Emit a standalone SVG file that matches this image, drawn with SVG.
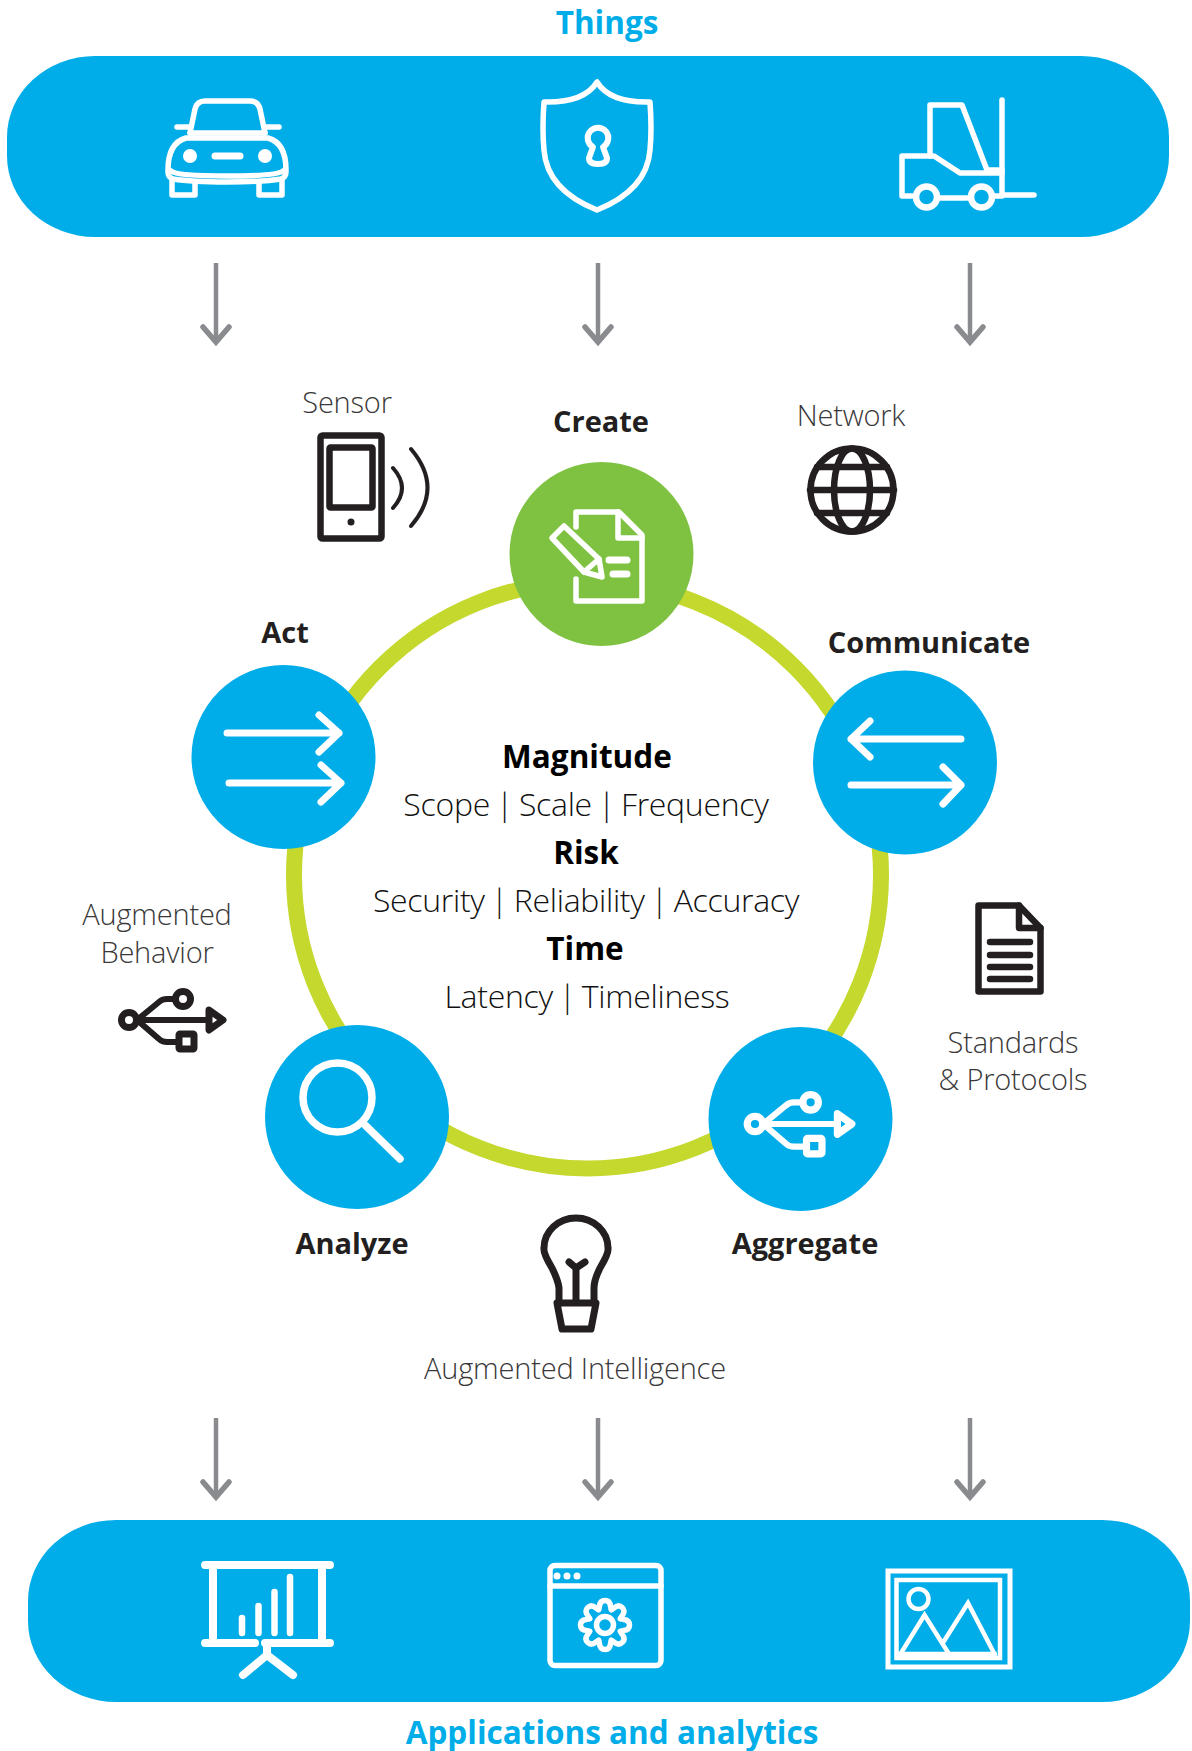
<svg xmlns="http://www.w3.org/2000/svg" xmlns:xlink="http://www.w3.org/1999/xlink" width="1192" height="1751" viewBox="0 0 1192 1751">
<style>
text{font-family:"Open Sans","Noto Sans","Liberation Sans",sans-serif;text-anchor:middle}
.band{fill:#00ADE9}
.blue{fill:#00ADE9}
.green{fill:#7FC241}
.title{font-size:31.5px;font-weight:700;fill:#00ADE9}
.step{font-size:29px;font-weight:700;fill:#231F20}
.lab{font-size:29px;font-weight:300;letter-spacing:-.2px;fill:#3a3839}
.hd{font-size:31.5px;font-weight:700;fill:#000}
.sub{font-size:32px;font-weight:300;letter-spacing:-.3px;word-spacing:-2px;fill:#111}
.w{fill:none;stroke:#fff;stroke-width:5.5;stroke-linecap:round;stroke-linejoin:round}
.k{fill:none;stroke:#231F20;stroke-width:6.5;stroke-linecap:round;stroke-linejoin:round}
.arr{stroke:#898B8E;stroke-width:4.5;fill:none;marker-end:url(#chev)}
</style>
<defs>
<marker id="chev" markerUnits="userSpaceOnUse" markerWidth="40" markerHeight="40" refX="22" refY="20" orient="auto">
<path d="M6 7L21 20L6 33" fill="none" stroke="#898B8E" stroke-width="5.500" stroke-linecap="round"/>
</marker>
<g id="usb" fill="none" stroke="currentColor" stroke-linecap="round" stroke-linejoin="round">
<circle cx="0" cy="0" r="7.500" stroke-width="7"/>
<path d="M8 0H78" stroke-width="6"/>
<path d="M8 0L30-18Q33-21 38-21H46" stroke-width="6"/>
<path d="M8 0L30 19Q33 22 38 22H48" stroke-width="6"/>
<circle cx="54" cy="-21" r="7.500" stroke-width="7"/>
<rect x="50" y="14" width="15" height="15" rx="1" stroke-width="7"/>
<path d="M80-10L94 0L80 10Z" stroke-width="7"/>
</g>
<path id="tooth" d="M15.400-6.400L18.500-5.600Q24.500-5 24.500 0Q24.500 5 18.500 5.600L15.400 6.400"/>
<g id="arrowR" class="w" style="stroke-width:7"><path d="M0 0H112M92-18L112 0L92 19"/></g>
</defs>

<g id="connectors">
<circle id="ring" cx="587.500" cy="875" r="293.500" fill="none" stroke="#C4D82E" stroke-width="16"/>
<line class="arr" x1="216" y1="263" x2="216" y2="343"/>
<line class="arr" x1="598" y1="263" x2="598" y2="343"/>
<line class="arr" x1="970" y1="263" x2="970" y2="343"/>
<line class="arr" x1="216" y1="1418" x2="216" y2="1498"/>
<line class="arr" x1="598" y1="1418" x2="598" y2="1498"/>
<line class="arr" x1="970" y1="1418" x2="970" y2="1498"/>
</g>

<g id="things">
<text class="title" x="607" y="34">Things</text>
<rect class="band" x="7" y="56" width="1162" height="181" rx="88" ry="81"/>
<g id="car" class="w">
<path d="M190 133L195 109Q197 101 205 101H250Q258 101 260 109L265 133"/>
<path d="M190 133H265M190 127H177M265 127H279"/>
<path d="M186 138H268Q286 143 286 170V172Q286 177 281 179Q262 182 227 182Q192 182 173 179Q168 177 168 172V170Q168 143 186 138Z"/>
<path d="M171 171Q177 176 227 176Q277 176 283 171"/>
<path d="M172 179V195H195V183M259 183V195H282V179"/>
<circle cx="190" cy="156" r="7" fill="#fff" stroke="none"/>
<circle cx="265" cy="156" r="7" fill="#fff" stroke="none"/>
<path d="M215 156H240" style="stroke-width:7"/>
</g>
<g id="shield" class="w">
<path d="M597 82Q584 103 544 102Q542 130 544 150Q547 190 597 210Q647 190 650 150Q652 130 650 102Q610 103 597 82Z"/>
<path d="M593 147A10.300 10.300 0 1 1 603 147L607 158Q607 164 598 164Q589 164 589 158Z" style="stroke-width:6"/>
</g>
<g id="forklift" class="w">
<path d="M930 156V105H962L987 170H1002"/>
<path d="M1002 100V195H1034" style="stroke-width:5.500"/>
<path d="M902 196H912M940 198H967M994 196H1002M902 196V156H934L960 173H1002"/>
<circle cx="926.500" cy="197" r="10.500" style="stroke-width:6.500"/>
<circle cx="981.500" cy="197" r="10.500" style="stroke-width:6.500"/>
</g>
</g>

<g id="sensor">
<text class="lab" x="347" y="413">Sensor</text>
<rect x="320.500" y="435.500" width="61" height="103" rx="2" class="k"/>
<rect x="329.500" y="447.500" width="43" height="60" rx="1" class="k"/>
<circle cx="351" cy="522" r="3.500" fill="#231F20"/>
<path d="M393 468Q411 488 393 508M411 449Q444 488 411 526" class="k" style="stroke-width:4"/>
</g>

<g id="network">
<text class="lab" x="851" y="426">Network</text>
<g class="k" style="stroke-width:6.500">
<circle cx="852" cy="490" r="41.500"/>
<ellipse cx="852" cy="490" rx="18" ry="41.500"/>
<path d="M810 490H894M817 467H887M817 513H887"/>
</g>
</g>

<g id="create">
<text class="step" x="601" y="432">Create</text>
<circle class="green" cx="601.500" cy="554" r="92"/>
<g class="w">
<path d="M576 527V512H619L642 535V601H576V579"/>
<path d="M618 512V538H642"/>
<path d="M609 560H627M613 574H627" style="stroke-width:7"/>
<path d="M552 538L564 526L599 559L602 577L584 572Z"/>
<path d="M584 572L599 559"/>
</g>
</g>

<g id="communicate">
<text class="step" x="929" y="653">Communicate</text>
<circle class="blue" cx="905" cy="762.500" r="92"/>
<g class="w" style="stroke-width:7">
<path d="M961 739H851M870 721L851 739L870 757"/>
<path d="M851 785H961M943 767L961 785L943 804"/>
</g>
</g>

<g id="act">
<text class="step" x="285" y="643">Act</text>
<circle class="blue" cx="283.500" cy="757" r="92"/>
<use xlink:href="#arrowR" href="#arrowR" x="227" y="733"/>
<use xlink:href="#arrowR" href="#arrowR" x="229" y="783"/>
</g>

<g id="analyze">
<text class="step" x="352" y="1254">Analyze</text>
<circle class="blue" cx="357" cy="1117" r="92"/>
<g class="w" style="stroke-width:7.500">
<circle cx="337.500" cy="1097.500" r="34.500"/>
<path d="M365 1125L400 1159"/>
</g>
</g>

<g id="aggregate">
<text class="step" x="805" y="1254">Aggregate</text>
<circle class="blue" cx="800.500" cy="1119" r="92"/>
<use xlink:href="#usb" href="#usb" transform="translate(755 1124) scale(1.03)" style="color:#fff"/>
</g>

<g id="center-text">
<text class="hd" x="587" y="768">Magnitude</text>
<text class="sub" x="586" y="816">Scope | Scale | Frequency</text>
<text class="hd" x="586" y="864">Risk</text>
<text class="sub" x="586" y="912">Security | Reliability | Accuracy</text>
<text class="hd" x="585" y="960">Time</text>
<text class="sub" x="587" y="1008">Latency | Timeliness</text>
</g>

<g id="augmented-behavior">
<text class="lab" x="157" y="925">Augmented</text>
<text class="lab" x="157" y="963">Behavior</text>
<use xlink:href="#usb" href="#usb" transform="translate(129 1020)" style="color:#231F20"/>
</g>

<g id="standards">
<path class="k" d="M978.500 905.500H1019L1040.500 928V991.500H978.500Z"/>
<path class="k" d="M1019 905.500V928H1040.500"/>
<path class="k" d="M990 942H1030M990 955H1030M990 967H1030M990 979H1030"/>
<text class="lab" x="1013" y="1053">Standards</text>
<text class="lab" x="1013" y="1090">&amp; Protocols</text>
</g>

<g id="augmented-intelligence">
<g class="k" style="stroke-width:7">
<path d="M559 1303V1288Q558 1280 552 1268Q543 1253 544 1248A32 30 0 1 1 608 1248Q609 1253 600 1268Q594 1280 594 1288V1303"/>
<path d="M557 1303H596L591 1329H562Z"/>
<path d="M576 1300V1268M569 1262L576 1268L585 1262"/>
</g>
<text class="lab" x="575" y="1379">Augmented Intelligence</text>
</g>

<g id="applications">
<rect class="band" x="28" y="1520" width="1162" height="182" rx="88" ry="81"/>
<text class="title" x="612" y="1744">Applications and analytics</text>
<g id="presentation" class="w" style="stroke-width:8">
<path d="M205 1565H330M213 1565V1642M322 1565V1642M205 1643H255M265 1643H330M267 1643V1655M243 1675L267 1655L293 1675"/>
<path d="M242 1618V1633M258.500 1606V1633M274.500 1592V1633M290 1577V1633" style="stroke-width:6.500"/>
</g>
<g id="settings" class="w" style="stroke-width:5.500">
<rect x="550" y="1565.500" width="111" height="100" rx="5"/>
<path d="M550 1586H661"/>
<circle cx="557" cy="1576" r="3.500" fill="#fff" stroke="none"/>
<circle cx="567" cy="1576" r="3.500" fill="#fff" stroke="none"/>
<circle cx="577" cy="1576" r="3.500" fill="#fff" stroke="none"/>
<g transform="translate(605 1625)">
<circle r="8.500"/>
<use xlink:href="#tooth" href="#tooth" transform="rotate(0)"/>
<use xlink:href="#tooth" href="#tooth" transform="rotate(45)"/>
<use xlink:href="#tooth" href="#tooth" transform="rotate(90)"/>
<use xlink:href="#tooth" href="#tooth" transform="rotate(135)"/>
<use xlink:href="#tooth" href="#tooth" transform="rotate(180)"/>
<use xlink:href="#tooth" href="#tooth" transform="rotate(225)"/>
<use xlink:href="#tooth" href="#tooth" transform="rotate(270)"/>
<use xlink:href="#tooth" href="#tooth" transform="rotate(315)"/>
</g>
</g>
<g id="picture" class="w" style="stroke-width:4.500;stroke-linecap:square;stroke-linejoin:miter">
<rect x="888" y="1571" width="122" height="96" style="stroke-width:5"/>
<rect x="896.500" y="1580" width="103.500" height="78"/>
<circle cx="918.500" cy="1599" r="10"/>
<path d="M900.500 1654L924.500 1615L949 1654M943.500 1642L968 1603L994.500 1654M900.500 1654H994.500"/>
</g>
</g>
</svg>
